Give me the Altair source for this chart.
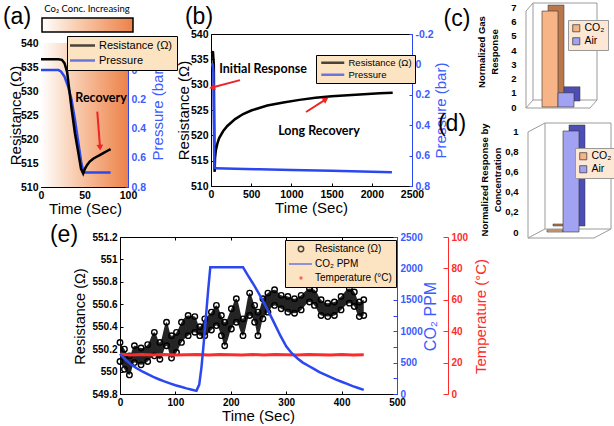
import altair as alt
import pandas as pd

W, H = 614, 426
FONT = "Liberation Sans"
ANN = "Lato"
BLUE = "#2b48f0"
BLUE_TXT = "#3b5bff"
RED = "#ff2b2b"
ARROW_RED = "#f02424"
LEG_BG = "#fce3c1"
ORANGE = "#f7b487"
ORANGE_DK = "#b8784c"
LAV = "#a2a2f3"
LAV_DK = "#4d4db6"

# ---------------- data ----------------
# (a) short exposure
a_res_t = [0, 10, 20, 24, 27, 30, 32, 35, 39, 43, 46, 48.5, 50.5, 53, 56, 60, 64, 68, 72, 76, 80]
a_res_ohm = [536.6, 536.6, 536.6, 536.5, 535.8, 534.0, 531.0, 526.5, 521.2, 517.0, 513.8, 512.8,
             513.8, 514.6, 515.3, 515.9, 516.3, 516.7, 517.1, 517.5, 517.9]
a_p_t = [0, 10, 20, 23, 27, 31, 35, 39, 43, 46.5, 48.5, 50, 60, 70, 80]
a_p_bar = [0, 0, 0, 0.01, 0.045, 0.11, 0.2, 0.34, 0.5, 0.64, 0.69, 0.70, 0.70, 0.70, 0.70]

# (b) long recovery
b_res_t = [0, 25, 35, 40, 43, 46, 50, 60, 80, 100, 150, 200, 300, 400, 500, 700, 900, 1100,
           1300, 1500, 1700, 1900, 2100, 2260]
b_res_ohm = [536.5, 536.4, 534, 522, 513.5, 512.8, 515.5, 517.0, 518.4, 519.4, 520.8, 521.8,
             523.2, 524.2, 524.9, 525.9, 526.5, 527.0, 527.4, 527.7, 527.9, 528.1, 528.3, 528.4]
b_p_t = [0, 20, 30, 35, 40, 45, 60, 300, 600, 1000, 1500, 2000, 2250]
b_p_bar = [0, 0, 0.05, 0.3, 0.6, 0.68, 0.684, 0.686, 0.69, 0.695, 0.70, 0.706, 0.71]

# (c), (d)
gases = ["CO₂", "Air"]
c_response = [6.75, 1.0]
d_response = [0.02, 1.0]

# (e) resistance band (upper / lower edge of the cloud of points)
e_t = [0, 8, 17, 26, 38, 50, 62, 72, 84, 93, 102, 111, 123, 135, 144, 153, 165, 174, 183, 189,
       201, 210, 222, 234, 243, 249, 258, 267, 279, 291, 303, 315, 327, 342, 351, 363, 375, 387,
       399, 414, 423, 432, 440]
e_hi = [550.26, 550.20, 550.14, 550.23, 550.21, 550.24, 550.35, 550.26, 550.44, 550.32,
        550.35, 550.44, 550.50, 550.49, 550.40, 550.47, 550.53, 550.59, 550.50, 550.44,
        550.56, 550.65, 550.47, 550.70, 550.59, 550.53, 550.65, 550.70, 550.73, 550.68,
        550.67, 550.65, 550.68, 550.74, 550.73, 550.64, 550.61, 550.62, 550.67, 550.74,
        550.71, 550.62, 550.64]
e_lo = [550.09, 550.02, 549.97, 550.08, 550.06, 550.09, 550.14, 550.11, 550.23, 550.12,
        550.17, 550.26, 550.32, 550.35, 550.32, 550.32, 550.37, 550.41, 550.32, 550.23,
        550.38, 550.44, 550.32, 550.50, 550.44, 550.32, 550.47, 550.53, 550.59, 550.56,
        550.53, 550.52, 550.55, 550.62, 550.59, 550.50, 550.49, 550.50, 550.55, 550.61,
        550.58, 550.49, 550.50]
co2_t = [0, 5, 10, 20, 30, 40, 50, 60, 70, 80, 90, 100, 110, 120, 130, 138, 143, 147, 151, 155,
         159, 163, 222, 230, 240, 250, 260, 270, 280, 290, 300, 310, 320, 330, 340, 350, 360, 370,
         380, 390, 400, 410, 420, 430, 440]
co2_ppm = [640, 590, 545, 470, 410, 360, 315, 272, 235, 200, 170, 140, 115, 90, 68, 50, 150, 420,
           800, 1220, 1640, 2020, 2020, 1900, 1760, 1610, 1450, 1280, 1100, 920, 760, 650, 570,
           500, 450, 400, 350, 310, 270, 230, 195, 160, 125, 95, 65]
temp_t = [0, 20, 40, 60, 80, 100, 120, 140, 160, 180, 200, 220, 240, 260, 280, 300, 320, 340,
          360, 380, 400, 420, 440]
temp_c = [25.4, 24.8, 25.1, 24.9, 25.2, 24.8, 25.0, 25.1, 24.9, 25.2, 25.0, 24.8, 25.1, 24.9,
          25.2, 25.0, 24.9, 25.1, 25.0, 24.8, 25.1, 24.9, 25.0]

# axis domains and ticks
A_T, A_R, A_P = [0, 100], [510, 540], [-0.185, 0.8]
B_T, B_R, B_P = [0, 2500], [510, 540], [-0.2, 0.8]
E_T, E_R, E_C, E_K = [0, 500], [549.8, 551.2], [0, 2500], [0, 100]
a_ticks_t = [0, 50, 100]
ohm_ticks = [510, 515, 520, 525, 530, 535, 540]
a_ticks_p = [0, 0.2, 0.4, 0.6, 0.8]
b_ticks_t = [0, 500, 1000, 1500, 2000, 2500]
b_ticks_p = [-0.2, 0, 0.2, 0.4, 0.6, 0.8]
e_ticks_t = [0, 100, 200, 300, 400, 500]
e_ticks_ohm = [549.8, 550.0, 550.2, 550.4, 550.6, 550.8, 551.0, 551.2]
e_ticks_ppm = [0, 500, 1000, 1500, 2000, 2500]
e_ticks_ppm_minor = [0, 250, 500, 750, 1000, 1250, 1500, 1750, 2000, 2250, 2500]
e_ticks_temp = [0, 20, 40, 60, 80, 100]
c_ticks = [0, 1, 2, 3, 4, 5, 6, 7]
d_ticks = [0, 0.2, 0.4, 0.6, 0.8, 1]

# ---------------- layout (pixel frames of each plot area) ----------------
PA = dict(l=41, r=128, b=187, t=43)
PB = dict(l=211, r=412, b=186, t=34)
PE = dict(l=120, r=397, b=394, t=237)
TEMP_X = 448


def lin(dom, rng):
    return alt.Scale(type="linear", domain=list(dom), range=list(rng), nice=False, zero=False)


a_x = lin(A_T, [PA["l"], PA["r"]]); a_y = lin(A_R, [PA["b"], PA["t"]]); a_p = lin(A_P, [PA["t"], PA["b"]])
b_x = lin(B_T, [PB["l"], PB["r"]]); b_y = lin(B_R, [PB["b"], PB["t"]]); b_p = lin(B_P, [PB["t"], PB["b"]])
e_x = lin(E_T, [PE["l"], PE["r"]]); e_y = lin(E_R, [PE["b"], PE["t"]])
e_c = lin(E_C, [PE["b"], PE["t"]]); e_k = lin(E_K, [PE["b"], PE["t"]])

AXIS_BASE = dict(grid=False, labelFlush=False, labelOverlap=False, labelBound=False,
                 labelFont=FONT, labelFontSize=10.5, labelFontWeight="bold", labelColor="black",
                 titleFont=FONT, titleFontSize=15, titleFontWeight="normal", titleColor="black",
                 domainColor="black", domainWidth=1, ticks=False, labelPadding=3,
                 labelExpr="datum.value + ''",
                 titleAlign="center", titleBaseline="middle")


def axis_layer(channel, dom, rng, orient, pos, **kw):
    off = {"left": -pos, "right": pos - W, "top": -pos, "bottom": pos - H}[orient]
    opts = {**AXIS_BASE, **kw}
    cls = alt.X if channel == "x" else alt.Y
    enc = cls("v:Q", scale=lin(dom, rng), axis=alt.Axis(orient=orient, offset=off, **opts))
    return alt.Chart(pd.DataFrame({"v": list(dom)})).mark_point(opacity=0).encode(**{channel: enc})


def tick_layer(channel, dom, rng, orient, pos, values, color="black", size=3):
    return axis_layer(channel, dom, rng, orient, pos, values=values, labels=False, domain=False,
                      ticks=True, tickSize=size, tickColor=color, tickWidth=1, title=None)


def line_layer(t, v, xs, ys, color, width):
    df = pd.DataFrame({"t": t, "v": v})
    return alt.Chart(df).mark_line(color=color, strokeWidth=width).encode(
        x=alt.X("t:Q", scale=xs, axis=None), y=alt.Y("v:Q", scale=ys, axis=None))


def text_px(txt, x, y, size=23, font=FONT, weight="normal", color="black", angle=0):
    return alt.Chart(pd.DataFrame({"s": [txt]})).mark_text(
        font=font, fontSize=size, fontWeight=weight, color=color, align="center",
        baseline="middle", angle=angle
    ).encode(x=alt.value(x), y=alt.value(y), text="s:N")


def text_data(txt, t, r, xs, ys):
    return alt.Chart(pd.DataFrame({"t": [t], "r": [r], "s": [txt]})).mark_text(
        font=ANN, fontSize=12.5, fontWeight="bold", color="black", align="center", baseline="middle"
    ).encode(x=alt.X("t:Q", scale=xs, axis=None), y=alt.Y("r:Q", scale=ys, axis=None), text="s:N")


def arrow_layers(t1, r1, t2, r2, ang, xs, ys):
    df = pd.DataFrame({"t1": [t1], "r1": [r1], "t2": [t2], "r2": [r2], "ang": [ang]})
    rule = alt.Chart(df).mark_rule(color=ARROW_RED, strokeWidth=2).encode(
        x=alt.X("t1:Q", scale=xs, axis=None), x2="t2", y=alt.Y("r1:Q", scale=ys, axis=None), y2="r2")
    head = alt.Chart(df).mark_point(shape="triangle", filled=True, size=45, color=ARROW_RED,
                                    opacity=1).encode(
        x=alt.X("t2:Q", scale=xs, axis=None), y=alt.Y("r2:Q", scale=ys, axis=None),
        angle=alt.Angle("ang:Q", scale=None))
    return [rule, head]


def frame_layer(xr, yr, dx, dy):
    edges = [(0, 0, 1, 0), (1, 0, 1, 1), (1, 1, 0, 1), (0, 1, 0, 0),
             (dx, dy, dx, 1 + dy), (dx, 1 + dy, 0, 1), (dx, dy, 0, 0),
             (dx, dy, 1 + dx, dy), (1 + dx, dy, 1, 0)]
    df = pd.DataFrame(edges, columns=["x1", "y1", "x2", "y2"])
    return alt.Chart(df).mark_rule(color="#9a9a9a", strokeWidth=1).encode(
        x=alt.X("x1:Q", scale=lin([0, 1], xr), axis=None), x2="x2",
        y=alt.Y("y1:Q", scale=lin([0, 1], yr), axis=None), y2="y2")


GRAD = alt.Gradient(gradient="linear", x1=0, x2=1, y1=0, y2=0, stops=[
    alt.GradientStop(offset=0, color="#ffffff"),
    alt.GradientStop(offset=0.35, color="#f9d2b8"),
    alt.GradientStop(offset=0.7, color="#f3a67a"),
    alt.GradientStop(offset=1, color="#ec824a")])

layers = []

# ---------- (a) ----------
a_bg = pd.DataFrame({"t0": [A_T[0]], "t1": [A_T[1]], "r0": [A_R[0]], "r1": [A_R[1]]})
layers.append(alt.Chart(a_bg).mark_rect(fill=GRAD).encode(
    x=alt.X("t0:Q", scale=a_x, axis=None), x2="t1", y=alt.Y("r0:Q", scale=a_y, axis=None), y2="r1"))
conc_bar = pd.DataFrame({"c0": [0], "c1": [1], "k0": [0], "k1": [1]})
layers.append(alt.Chart(conc_bar).mark_rect(fill=GRAD, stroke="black", strokeWidth=1.5).encode(
    x=alt.X("c0:Q", scale=lin([0, 1], [42, 133]), axis=None), x2="c1",
    y=alt.Y("k0:Q", scale=lin([0, 1], [32, 18]), axis=None), y2="k1"))
layers.append(line_layer(a_p_t, a_p_bar, a_x, a_p, BLUE, 2.5))
layers.append(line_layer(a_res_t, a_res_ohm, a_x, a_y, "black", 2.5))

# ---------- (b) ----------
layers.append(line_layer(b_res_t, b_res_ohm, b_x, b_y, "black", 2.5))
layers.append(line_layer(b_p_t, b_p_bar, b_x, b_p, BLUE, 2.5))

# ---------- (c), (d) frames and bars ----------
layers.append(frame_layer([533, 597], [100, 3], -7 / 64, -8 / 97))
layers.append(frame_layer([545, 611], [229, 123], -17 / 66, -9 / 106))

c_xs = alt.Scale(type="band", domain=gases, range=[526, 590], paddingInner=0, paddingOuter=1)
d_xs = alt.Scale(type="band", domain=gases, range=[531, 595], paddingInner=0, paddingOuter=1)
c_ys = lin([0, 7], [107, 7.5])
d_ys = lin([0, 1], [232, 131])
cdf = pd.DataFrame({"g": gases, "v": c_response})
ddf = pd.DataFrame({"g": gases, "v": d_response})
DARK = alt.Scale(domain=gases, range=[ORANGE_DK, LAV_DK])


def bar_legend(x, y):
    return alt.Legend(orient="none", legendX=x, legendY=y, title=None, fillColor="#fde8d6",
                      strokeColor="#999999", padding=3, symbolType="square", symbolSize=50,
                      symbolStrokeColor="#444444", symbolStrokeWidth=0.8, labelFont=FONT,
                      labelFontSize=10.5, labelColor="black", rowPadding=2, labelOffset=3)


for df, xs, ys, lx, ly in [(cdf, c_xs, c_ys, 568, 20), (ddf, d_xs, d_ys, 575, 148)]:
    layers.append(alt.Chart(df).mark_bar(xOffset=6, yOffset=-6, y2Offset=-6, stroke="#333333",
                                         strokeWidth=0.5).encode(
        x=alt.X("g:N", scale=xs, axis=None), y=alt.Y("v:Q", scale=ys, axis=None),
        color=alt.Color("g:N", scale=DARK, legend=None)))
    layers.append(alt.Chart(df).mark_bar(stroke="#333333", strokeWidth=0.6).encode(
        x=alt.X("g:N", scale=xs, axis=None), y=alt.Y("v:Q", scale=ys, axis=None),
        color=alt.Color("g:N", scale=alt.Scale(domain=gases, range=[ORANGE, LAV]),
                        legend=bar_legend(lx, ly))))

# ---------- (e) ----------
e_band = pd.DataFrame({"t": e_t, "hi": e_hi, "lo": e_lo})
layers.append(alt.Chart(e_band).mark_area(color="#111111", opacity=0.92,
                                          interpolate="monotone").encode(
    x=alt.X("t:Q", scale=e_x, axis=None), y=alt.Y("lo:Q", scale=e_y, axis=None), y2="hi"))
e_pts = pd.DataFrame({"t": e_t + e_t, "r": e_hi + e_lo})
layers.append(alt.Chart(e_pts).mark_point(shape="circle", filled=False, color="black", size=30,
                                          strokeWidth=1.4, opacity=1).encode(
    x=alt.X("t:Q", scale=e_x, axis=None), y=alt.Y("r:Q", scale=e_y, axis=None)))
layers.append(line_layer(temp_t, temp_c, e_x, e_k, RED, 3))
layers.append(line_layer(co2_t, co2_ppm, e_x, e_c, BLUE, 2.5))

# ---------- axes ----------
# (a)
layers.append(axis_layer("y", A_R, [PA["b"], PA["t"]], "left", PA["l"], values=ohm_ticks,
                         title="Resistance (Ω)", titleX=-26, titleY=115, titleAngle=270))
layers.append(axis_layer("y", A_P, [PA["t"], PA["b"]], "right", PA["r"], values=a_ticks_p,
                         labelColor=BLUE_TXT, domainColor=BLUE,
                         title="Pressure (bar)", titleColor=BLUE_TXT, titleX=29, titleY=112,
                         titleAngle=270))
layers.append(axis_layer("x", A_T, [PA["l"], PA["r"]], "bottom", PA["b"], values=a_ticks_t,
                         title="Time (Sec)", titleX=85, titleY=21))
layers.append(axis_layer("x", A_T, [PA["l"], PA["r"]], "top", PA["t"], labels=False, title=None))
layers.append(tick_layer("y", A_R, [PA["b"], PA["t"]], "right", PA["l"], ohm_ticks))
layers.append(tick_layer("y", A_P, [PA["t"], PA["b"]], "left", PA["r"], a_ticks_p, BLUE))
layers.append(tick_layer("x", A_T, [PA["l"], PA["r"]], "top", PA["b"], a_ticks_t))
# (b)
layers.append(axis_layer("y", B_R, [PB["b"], PB["t"]], "left", PB["l"], values=ohm_ticks,
                         title="Resistance (Ω)", titleX=-28, titleY=110, titleAngle=270))
layers.append(axis_layer("y", B_P, [PB["t"], PB["b"]], "right", PB["r"], values=b_ticks_p,
                         labelColor=BLUE_TXT, domainColor=BLUE,
                         title="Pressure (bar)", titleColor=BLUE_TXT, titleX=28, titleY=110,
                         titleAngle=270))
layers.append(axis_layer("x", B_T, [PB["l"], PB["r"]], "bottom", PB["b"], values=b_ticks_t,
                         title="Time (Sec)", titleX=311, titleY=21))
layers.append(axis_layer("x", B_T, [PB["l"], PB["r"]], "top", PB["t"], labels=False, title=None))
layers.append(tick_layer("y", B_R, [PB["b"], PB["t"]], "right", PB["l"], ohm_ticks))
layers.append(tick_layer("y", B_P, [PB["t"], PB["b"]], "left", PB["r"], b_ticks_p, BLUE))
layers.append(tick_layer("x", B_T, [PB["l"], PB["r"]], "top", PB["b"], b_ticks_t))
# (c), (d)
layers.append(axis_layer("y", [0, 7], [107, 7.5], "left", 525, values=c_ticks, domain=False,
                         labelFontSize=9.5, labelPadding=9, title=None))
layers.append(axis_layer("y", [0, 1], [232, 131], "left", 527, values=d_ticks, domain=False,
                         labelFontSize=9.5, labelPadding=9,
                         labelExpr="replace(datum.value + '', '.', ',')", title=None))
# (e)
layers.append(axis_layer("y", E_R, [PE["b"], PE["t"]], "left", PE["l"], values=e_ticks_ohm,
                         labelFontSize=10, title="Resistance (Ω)", titleFontSize=14.5,
                         titleX=-40, titleY=316, titleAngle=270))
layers.append(axis_layer("x", E_T, [PE["l"], PE["r"]], "bottom", PE["b"], values=e_ticks_t,
                         labelFontSize=10, title="Time (Sec)", titleFontSize=15, titleX=258,
                         titleY=21))
layers.append(axis_layer("x", E_T, [PE["l"], PE["r"]], "top", PE["t"], labels=False, title=None))
layers.append(axis_layer("y", E_C, [PE["b"], PE["t"]], "right", PE["r"], values=e_ticks_ppm,
                         labelFontSize=10, labelColor=BLUE_TXT, domainColor=BLUE,
                         title="CO₂ PPM", titleColor=BLUE_TXT, titleFontSize=16, titleX=33,
                         titleY=316, titleAngle=270))
layers.append(axis_layer("y", E_K, [PE["b"], PE["t"]], "right", TEMP_X, values=e_ticks_temp,
                         labelFontSize=10, labelColor=RED, domainColor=RED,
                         title="Temperature (°C)", titleColor=RED, titleFontSize=15, titleX=32,
                         titleY=316, titleAngle=270))
layers.append(tick_layer("y", E_R, [PE["b"], PE["t"]], "right", PE["l"], e_ticks_ohm))
layers.append(tick_layer("x", E_T, [PE["l"], PE["r"]], "top", PE["b"], e_ticks_t))
layers.append(tick_layer("x", E_T, [PE["l"], PE["r"]], "bottom", PE["t"], e_ticks_t))
layers.append(tick_layer("y", E_C, [PE["b"], PE["t"]], "left", PE["r"], e_ticks_ppm_minor, BLUE, 4))
layers.append(tick_layer("y", E_K, [PE["b"], PE["t"]], "left", TEMP_X, e_ticks_temp, RED, 5))

# ---------- legends ----------
A_SER = ["Resistance (Ω)", "Pressure"]
E_SER = ["Resistance (Ω)", "CO₂ PPM", "Temperature (°C)"]
E_SHAPES = ["M3.23,0A0.9,0.9,0,1,1,1.43,0A0.9,0.9,0,1,1,3.23,0Z",
            "M-1.67,0L6,0",
            "M2.63,0A0.3,0.3,0,1,1,2.03,0A0.3,0.3,0,1,1,2.63,0Z"]


def line_legend(x, y, path, offset, fsize, pad, rowpad):
    return alt.Legend(orient="none", legendX=x, legendY=y, title=None, fillColor=LEG_BG,
                      strokeColor="black", padding=pad, symbolType=path, symbolSize=16,
                      symbolStrokeWidth=2.5, labelOffset=offset, labelFont=FONT,
                      labelFontSize=fsize, labelColor="black", rowPadding=rowpad)


for lx, ly, path, off, fs, pad, rp in [(67, 36, "M-3.25,0L9.25,0", 17, 11, 4, 3),
                                      (316, 55, "M-1.25,0L10.25,0", 20, 9.5, 3, 1)]:
    layers.append(alt.Chart(pd.DataFrame({"s": A_SER})).transform_filter("false")
                  .mark_point(filled=False).encode(
        color=alt.Color("s:N", scale=alt.Scale(domain=A_SER, range=["black", BLUE]),
                        legend=line_legend(lx, ly, path, off, fs, pad, rp))))

LEG_E = alt.Legend(orient="none", legendX=285, legendY=240, title=None, fillColor=LEG_BG,
                   strokeColor="black", padding=4, symbolSize=36, symbolStrokeWidth=1.5,
                   labelOffset=16, labelFont=FONT, labelFontSize=10, labelColor="black",
                   rowPadding=4)
layers.append(alt.Chart(pd.DataFrame({"s": E_SER})).transform_filter("false")
              .mark_point(filled=False).encode(
    color=alt.Color("s:N", scale=alt.Scale(domain=E_SER, range=["black", BLUE, RED]), legend=LEG_E),
    shape=alt.Shape("s:N", scale=alt.Scale(domain=E_SER, range=E_SHAPES), legend=LEG_E)))

# ---------- texts and annotations ----------
layers.append(text_px("(a)", 17, 17))
layers.append(text_px("(b)", 199, 17))
layers.append(text_px("(c)", 457, 19))
layers.append(text_px("(d)", 452, 124))
layers.append(text_px("(e)", 64, 235))
layers.append(text_px("Co₂ Conc. Increasing", 87, 9, size=9.5, font=ANN))
layers.append(text_px("Normalized Gas", 482, 52, size=9.5, weight="bold", angle=270))
layers.append(text_px("Response", 495, 52, size=9.5, weight="bold", angle=270))
layers.append(text_px("Normalized Response by", 485, 180, size=9.5, weight="bold", angle=270))
layers.append(text_px("Concentration", 498, 180, size=9.5, weight="bold", angle=270))
layers.append(text_data("Recovery", 69, 528.5, a_x, a_y))
layers += arrow_layers(64.7, 525.7, 67.8, 518.4, 175.6, a_x, a_y)
layers.append(text_data("Initial Response", 647, 533.1, b_x, b_y))
layers += arrow_layers(361, 530.9, 25, 529.5, 255.5, b_x, b_y)
layers.append(text_data("Long Recovery", 1343, 520.9, b_x, b_y))
layers += arrow_layers(1182, 524.6, 1418, 527.0, 57.7, b_x, b_y)

chart = alt.layer(*layers).resolve_scale(
    x="independent", y="independent", color="independent", shape="independent"
).properties(
    width=W, height=H, autosize=alt.AutoSizeParams(type="none"), padding=0, background="white"
).configure_view(stroke=None)

chart.save("out.html", embed_options={"renderer": "svg", "actions": False})
